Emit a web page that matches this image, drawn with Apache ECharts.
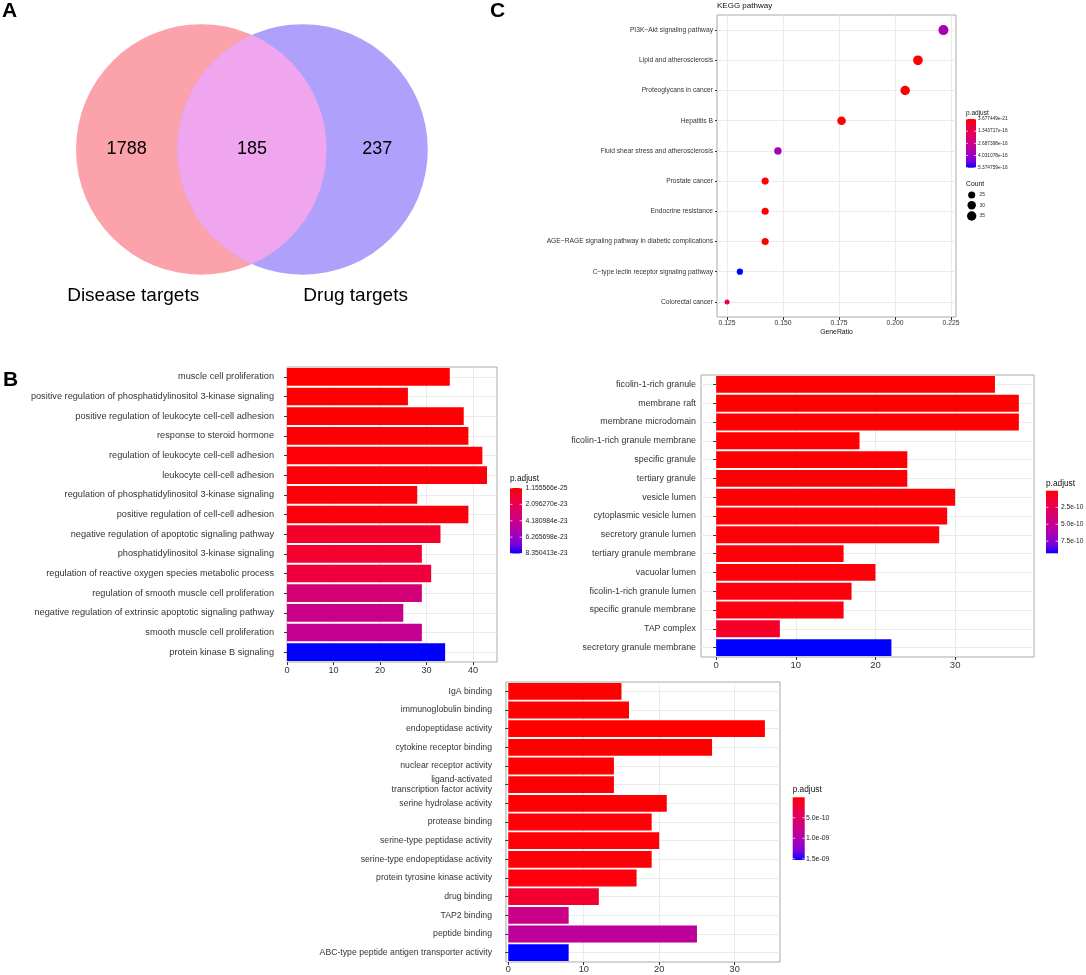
<!DOCTYPE html>
<html><head><meta charset="utf-8">
<script src="https://cdn.jsdelivr.net/npm/echarts@6/dist/echarts.min.js"></script>
<style>html,body{margin:0;padding:0;background:#fff}#c{width:1086px;height:975px}</style>
</head><body><div id="c"></div>
<script>
// ---------------- DATA ----------------
// Panel A : Venn
const vennSets = ['Disease targets', 'Drug targets'];
const vennCounts = [1788, 185, 237]; // disease only, shared, drug only

// Panel C : KEGG dot plot
const keggTerms = ['PI3K\u2212Akt signaling pathway', 'Lipid and atherosclerosis', 'Proteoglycans in cancer', 'Hepatitis B',
  'Fluid shear stress and atherosclerosis', 'Prostate cancer', 'Endocrine resistance',
  'AGE\u2212RAGE signaling pathway in diabetic complications', 'C\u2212type lectin receptor signaling pathway', 'Colorectal cancer'];
const keggRatio = [0.2216, 0.2102, 0.2045, 0.1761, 0.1477, 0.1420, 0.1420, 0.1420, 0.1307, 0.1250];
const keggCount = [39, 37, 36, 31, 26, 25, 25, 25, 23, 22];
const keggP = [3.70e-16, 1.0e-18, 2.0e-18, 3.677449e-21, 3.65e-16, 5.0e-19, 8.0e-19, 1.2e-18, 5.374759e-16, 0.9e-16];
const keggXTicks = [0.125, 0.150, 0.175, 0.200, 0.225];
const keggLegendTicks = [3.677449e-21, 1.343717e-16, 2.687398e-16, 4.031078e-16, 5.374759e-16];
const keggCountLegend = [25, 30, 35];

// Panel B : BP
const bpTerms = ['muscle cell proliferation', 'positive regulation of phosphatidylinositol 3-kinase signaling',
  'positive regulation of leukocyte cell-cell adhesion', 'response to steroid hormone',
  'regulation of leukocyte cell-cell adhesion', 'leukocyte cell-cell adhesion',
  'regulation of phosphatidylinositol 3-kinase signaling', 'positive regulation of cell-cell adhesion',
  'negative regulation of apoptotic signaling pathway', 'phosphatidylinositol 3-kinase signaling',
  'regulation of reactive oxygen species metabolic process', 'regulation of smooth muscle cell proliferation',
  'negative regulation of extrinsic apoptotic signaling pathway', 'smooth muscle cell proliferation',
  'protein kinase B signaling'];
const bpCount = [35, 26, 38, 39, 42, 43, 28, 39, 33, 29, 31, 29, 25, 29, 34];
const bpP = [1.155566e-25, 3e-25, 6e-25, 8e-25, 1.2e-24, 1.5e-24, 2.0e-24, 2.5e-24, 9.5e-24, 1.05e-23, 1.45e-23, 3.5e-23, 4.2e-23, 4.5e-23, 8.350413e-23];
const bpXTicks = [0, 10, 20, 30, 40];
const bpLegendTicks = [1.155566e-25, 2.096270e-23, 4.180984e-23, 6.265698e-23, 8.350413e-23];

// Panel B : CC
const ccTerms = ['ficolin-1-rich granule', 'membrane raft', 'membrane microdomain', 'ficolin-1-rich granule membrane',
  'specific granule', 'tertiary granule', 'vesicle lumen', 'cytoplasmic vesicle lumen', 'secretory granule lumen',
  'tertiary granule membrane', 'vacuolar lumen', 'ficolin-1-rich granule lumen', 'specific granule membrane',
  'TAP complex', 'secretory granule membrane'];
const ccCount = [35, 38, 38, 18, 24, 24, 30, 29, 28, 16, 20, 17, 16, 8, 22];
const ccP = [4e-12, 6e-12, 6.5e-12, 8e-12, 1.0e-11, 1.1e-11, 1.3e-11, 1.5e-11, 1.8e-11, 2.2e-11, 2.6e-11, 3.0e-11, 3.4e-11, 1.0e-10, 9.3e-10];
const ccXTicks = [0, 10, 20, 30];
const ccLegendTicks = [2.5e-10, 5.0e-10, 7.5e-10];

// Panel B : MF
const mfTerms = ['IgA binding', 'immunoglobulin binding', 'endopeptidase activity', 'cytokine receptor binding',
  'nuclear receptor activity', 'ligand-activated\ntranscription factor activity', 'serine hydrolase activity',
  'protease binding', 'serine-type peptidase activity', 'serine-type endopeptidase activity',
  'protein tyrosine kinase activity', 'drug binding', 'TAP2 binding', 'peptide binding',
  'ABC-type peptide antigen transporter activity'];
const mfCount = [15, 16, 34, 27, 14, 14, 21, 19, 20, 19, 17, 12, 8, 25, 8];
const mfP = [2e-12, 3e-12, 5e-12, 8e-12, 1.2e-11, 1.2e-11, 1.8e-11, 2.4e-11, 2.8e-11, 3.2e-11, 4.5e-11, 1.9e-10, 7.6e-10, 8.8e-10, 1.53e-9];
const mfXTicks = [0, 10, 20, 30];
const mfLegendTicks = [5.0e-10, 1.0e-9, 1.5e-9];

// ---------------- STYLE ----------------
const FONT = 'Liberation Sans, Arial, sans-serif';
const gradStops = ['#FF0000', '#F40031', '#E80050', '#DA006C', '#C90088', '#B500A5', '#9A00C3', '#7300E0', '#0000FF'];
const gridLineColor = '#EBEBEB';
const borderColor = '#A9A9A9';

// Venn layout (abstract units: radius 1)
const vennR = 1, vennD = 0.808;
const vennSetLabelPos = [[-0.544, -1.168], [1.232, -1.168]];
const vennColors = ['#FBA2AA', '#AFA1FB', '#EFA6EF'];

function fmtExp(v, d) {
  return v.toExponential(d).replace(/e([+-])(\d+)$/, function (m, s, e) { return 'e' + s + (e.length < 2 ? '0' + e : e); });
}
const range = a => [Math.min.apply(null, a), Math.max.apply(null, a)];
const keggR = range(keggP), bpR = range(bpP), ccR = range(ccP), mfR = range(mfP);
const cntR = range(keggCount);
function sizeOf(c) { return 5 + 5 * Math.sqrt((c - cntR[0]) / (cntR[1] - cntR[0])); }

function vAxis(gi, min, max, ticks, fs, margin, fmt, extra) {
  return Object.assign({
    type: 'value', gridIndex: gi, min: min, max: max,
    axisLine: { show: false },
    axisTick: { show: true, length: 3, customValues: ticks, lineStyle: { color: '#333', width: 1 } },
    axisLabel: { customValues: ticks, fontSize: fs, color: '#333', margin: margin, fontFamily: FONT, formatter: fmt },
    splitLine: { show: true, lineStyle: { color: gridLineColor, width: 1 } }
  }, extra || {});
}
function cAxis(gi, data, fs, offset, tickLen, margin) {
  return {
    type: 'category', gridIndex: gi, data: data, inverse: true, offset: offset,
    axisLine: { show: false },
    axisTick: { show: true, length: tickLen, alignWithLabel: true, interval: 0, lineStyle: { color: '#333' } },
    axisLabel: { fontSize: fs, color: '#333', margin: margin, fontFamily: FONT, interval: 0, lineHeight: fs * 1.1 },
    splitLine: { show: true, alignWithLabel: true, interval: 0, lineStyle: { color: gridLineColor } }
  };
}
function gridBox(l, t, w, h) {
  return { left: l, top: t, width: w, height: h, show: true, borderColor: borderColor, borderWidth: 1, backgroundColor: '#fff' };
}

function colorbar(x, y, w, h, r, ticks, digits, titleY, titleSize, labelX, labelSize) {
  const els = [];
  els.push({ type: 'text', x: x, y: titleY, style: { text: 'p.adjust', font: titleSize + 'px ' + FONT, fill: '#111', align: 'left', verticalAlign: 'middle', textAlign: 'left', textVerticalAlign: 'middle' } });
  els.push({ type: 'rect', shape: { x: x, y: y, width: w, height: h },
    style: { fill: new echarts.graphic.LinearGradient(0, 0, 0, 1, gradStops.map((c, i) => ({ offset: i / (gradStops.length - 1), color: c }))) } });
  ticks.forEach(v => {
    const ty = y + (v - r[0]) / (r[1] - r[0]) * h;
    els.push({ type: 'line', shape: { x1: x, y1: ty, x2: x + w / 5, y2: ty }, style: { stroke: '#fff', lineWidth: 0.7 } });
    els.push({ type: 'line', shape: { x1: x + w - w / 5, y1: ty, x2: x + w, y2: ty }, style: { stroke: '#fff', lineWidth: 0.7 } });
    els.push({ type: 'text', x: labelX, y: ty, style: { text: fmtExp(v, digits), font: labelSize + 'px ' + FONT, fill: '#222', align: 'left', verticalAlign: 'middle', textAlign: 'left', textVerticalAlign: 'middle' } });
  });
  return els;
}

function renderVenn(params, api) {
  const rpx = api.size([vennR, vennR])[0];
  const c1 = api.coord([0, 0]), c2 = api.coord([vennD, 0]);
  const hh = Math.sqrt(vennR * vennR - (vennD / 2) * (vennD / 2));
  const T = api.coord([vennD / 2, hh]), B = api.coord([vennD / 2, -hh]);
  const lens = 'M' + T[0] + ' ' + T[1] + ' A' + rpx + ' ' + rpx + ' 0 0 1 ' + B[0] + ' ' + B[1] +
    ' A' + rpx + ' ' + rpx + ' 0 0 1 ' + T[0] + ' ' + T[1] + ' Z';
  const pos = [api.coord([(-vennR + vennD - vennR) / 2, 0]), api.coord([vennD / 2, 0]), api.coord([(vennR + vennD + vennR) / 2, 0])];
  const children = [
    { type: 'circle', shape: { cx: c1[0], cy: c1[1], r: rpx }, style: { fill: vennColors[0] } },
    { type: 'circle', shape: { cx: c2[0], cy: c2[1], r: rpx }, style: { fill: vennColors[1] } },
    { type: 'path', shape: { pathData: lens }, style: { fill: vennColors[2] } }
  ];
  for (let i = 0; i < 3; i++) {
    children.push({ type: 'text', x: pos[i][0], y: pos[i][1], style: { text: String(api.value(i)), font: '18px ' + FONT, fill: '#000', align: 'center', verticalAlign: 'middle', textAlign: 'center', textVerticalAlign: 'middle' } });
  }
  vennSets.forEach((s, i) => {
    const p = api.coord(vennSetLabelPos[i]);
    children.push({ type: 'text', x: p[0], y: p[1], style: { text: s, font: '19px ' + FONT, fill: '#000', align: 'center', verticalAlign: 'middle', textAlign: 'center', textVerticalAlign: 'middle' } });
  });
  return { type: 'group', children: children };
}

// ---------------- CHART ----------------
const chart = echarts.init(document.getElementById('c'), null, { renderer: 'canvas' });

const graphicEls = [].concat(
  colorbar(966, 119, 10, 48.7, keggR, keggLegendTicks, 6, 113.3, 6.5, 978, 4.8),
  colorbar(510, 488, 12, 65.5, bpR, bpLegendTicks, 6, 479, 8.3, 525.5, 6.8),
  colorbar(1046, 490.7, 12, 62.6, ccR, ccLegendTicks, 1, 483.3, 8.3, 1061, 6.6),
  colorbar(792.7, 797.3, 12, 62.7, mfR, mfLegendTicks, 1, 790, 8.3, 806, 6.9)
);
// Count legend
graphicEls.push({ type: 'text', x: 966, y: 184, style: { text: 'Count', font: '6.8px ' + FONT, fill: '#111', align: 'left', verticalAlign: 'middle', textAlign: 'left', textVerticalAlign: 'middle' } });
const cntY = [195, 205.3, 216];
keggCountLegend.forEach((c, i) => {
  graphicEls.push({ type: 'circle', shape: { cx: 971.7, cy: cntY[i], r: sizeOf(c) / 2 }, style: { fill: '#000' } });
  graphicEls.push({ type: 'text', x: 979.5, y: cntY[i], style: { text: String(c), font: '4.8px ' + FONT, fill: '#222', align: 'left', verticalAlign: 'middle', textAlign: 'left', textVerticalAlign: 'middle' } });
});

const letterStyle = { fontSize: 21, fontWeight: 'bold', fontFamily: FONT, color: '#000' };

chart.setOption({
  animation: false,
  backgroundColor: '#fff',
  title: [
    { text: 'A', left: 2, top: 1, padding: 0, textStyle: letterStyle },
    { text: 'B', left: 3, top: 370, padding: 0, textStyle: letterStyle },
    { text: 'C', left: 490, top: 1, padding: 0, textStyle: letterStyle },
    { text: 'KEGG pathway', left: 717, top: 2, padding: 0, textStyle: { fontSize: 8, fontWeight: 'normal', fontFamily: FONT, color: '#111' } }
  ],
  grid: [
    { left: 0, top: 0, width: 470, height: 320, show: false },
    gridBox(717, 15, 239, 302),
    gridBox(287, 367, 210, 295),
    gridBox(701, 375, 333, 282),
    gridBox(506, 682, 274, 280)
  ],
  xAxis: [
    { type: 'value', gridIndex: 0, min: -1.607, max: 2.145, show: false },
    vAxis(1, 0.1205, 0.2272, keggXTicks, 6.8, 3, v => v.toFixed(3),
      { name: 'GeneRatio', nameLocation: 'middle', nameGap: 12, nameTextStyle: { fontSize: 6.8, color: '#111', fontFamily: FONT } }),
    vAxis(2, 0, 45.15, bpXTicks, 9.2, 4),
    vAxis(3, -1.9, 39.9, ccXTicks, 9.5, 3),
    vAxis(4, -0.3, 36.0, mfXTicks, 9.2, 3)
  ],
  yAxis: [
    { type: 'value', gridIndex: 0, min: -1.361, max: 1.193, show: false },
    cAxis(1, keggTerms, 6.7, 0, 2, 4),
    cAxis(2, bpTerms, 9.2, 8, 3, 5),
    cAxis(3, ccTerms, 8.9, 0, 3, 5),
    cAxis(4, mfTerms, 8.7, 9, 3, 5)
  ],
  visualMap: [
    { type: 'continuous', show: false, seriesIndex: 1, dimension: 2, min: keggR[0], max: keggR[1], inRange: { color: gradStops } },
    { type: 'continuous', show: false, seriesIndex: 2, dimension: 2, min: bpR[0], max: bpR[1], inRange: { color: gradStops } },
    { type: 'continuous', show: false, seriesIndex: 3, dimension: 2, min: ccR[0], max: ccR[1], inRange: { color: gradStops } },
    { type: 'continuous', show: false, seriesIndex: 4, dimension: 2, min: mfR[0], max: mfR[1], inRange: { color: gradStops } }
  ],
  graphic: { elements: graphicEls },
  series: [
    { type: 'custom', xAxisIndex: 0, yAxisIndex: 0, renderItem: renderVenn, data: [vennCounts], silent: true, clip: false },
    { type: 'scatter', xAxisIndex: 1, yAxisIndex: 1, encode: { x: 0, y: 1 },
      data: keggTerms.map((t, i) => [keggRatio[i], i, keggP[i], keggCount[i]]),
      symbolSize: v => sizeOf(v[3]), itemStyle: { opacity: 1 }, silent: true },
    { type: 'bar', xAxisIndex: 2, yAxisIndex: 2, encode: { x: 0, y: 1 }, barCategoryGap: '10%', silent: true,
      data: bpTerms.map((t, i) => [bpCount[i], i, bpP[i]]) },
    { type: 'bar', xAxisIndex: 3, yAxisIndex: 3, encode: { x: 0, y: 1 }, barCategoryGap: '10%', silent: true,
      data: ccTerms.map((t, i) => [ccCount[i], i, ccP[i]]) },
    { type: 'bar', xAxisIndex: 4, yAxisIndex: 4, encode: { x: 0, y: 1 }, barCategoryGap: '10%', silent: true,
      data: mfTerms.map((t, i) => [mfCount[i], i, mfP[i]]) }
  ]
});
</script></body></html>
